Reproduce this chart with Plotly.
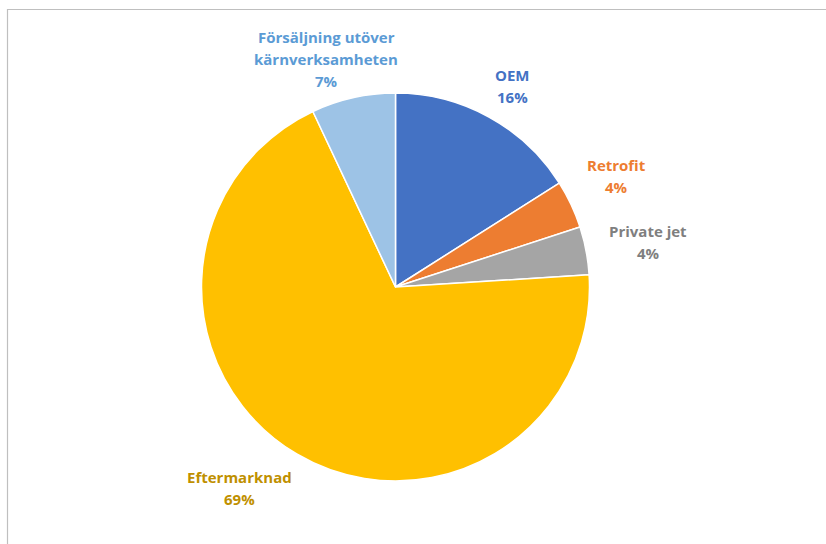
import plotly.graph_objects as go

W, H = 826, 544

categories = ["OEM", "Retrofit", "Private jet", "Eftermarknad", "Försäljning utöver<br>kärnverksamheten"]
values = [16, 4, 4, 69, 7]
slice_colors = ["#4472C4", "#ED7D31", "#A5A5A5", "#FFC000", "#9DC3E6"]
label_colors = ["#4472C4", "#ED7D31", "#7F7F7F", "#BF9000", "#5B9BD5"]
# label centre positions in pixels (x, y of first line)
label_pos = [(512, 75), (616, 165), (648, 231), (240, 477), (326, 37)]
LINE = 22

cx, cy, r = 395.5, 287, 194

fig = go.Figure(go.Pie(
    labels=categories,
    values=values,
    sort=False,
    direction="clockwise",
    rotation=0,
    marker=dict(colors=slice_colors, line=dict(color="white", width=1.5)),
    textinfo="none",
    hoverinfo="label+percent",
    showlegend=False,
    domain=dict(x=[(cx - r) / W, (cx + r) / W], y=[1 - (cy + r) / H, 1 - (cy - r) / H]),
))

for cat, v, col, (lx, ly) in zip(categories, values, label_colors, label_pos):
    lines = cat.split("<br>") + [f"{v}%"]
    for i, t in enumerate(lines):
        fig.add_annotation(
            x=lx / W, y=1 - (ly + i * LINE) / H, xref="paper", yref="paper",
            text=f"<b>{t}</b>", showarrow=False,
            font=dict(family="Open Sans", size=15, color=col),
            align="center", xanchor="center", yanchor="middle",
        )

fig.add_shape(type="rect", xref="paper", yref="paper",
              x0=7.5 / W, x1=835 / W, y0=1 - 9.5 / H, y1=-0.05,
              line=dict(color="#BFBFBF", width=1.2), fillcolor="rgba(0,0,0,0)")

fig.update_layout(
    width=W, height=H,
    margin=dict(l=0, r=0, t=0, b=0),
    paper_bgcolor="white", plot_bgcolor="white",
)

fig.write_html("out.html")
